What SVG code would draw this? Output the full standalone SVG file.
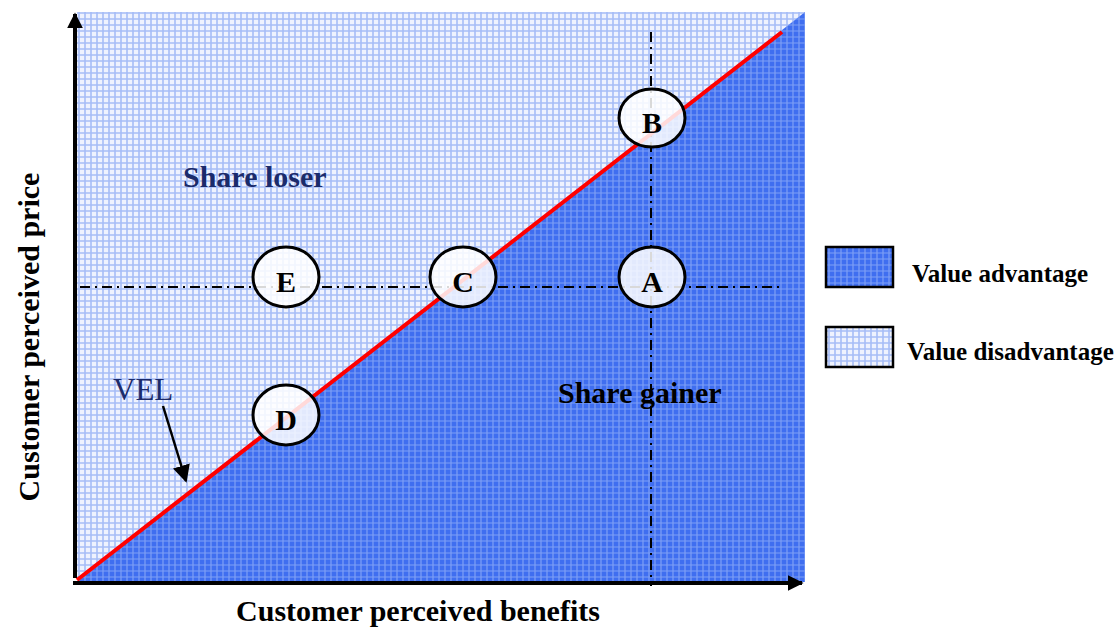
<svg xmlns="http://www.w3.org/2000/svg" width="1120" height="628" viewBox="0 0 1120 628">
  <defs>
    <!-- grid textures for the two value regions -->
    <pattern id="gridDark" width="6" height="6" patternUnits="userSpaceOnUse">
      <rect width="6" height="6" fill="#3f6ef0"/>
      <path d="M0 1H6M1 0V6" stroke="#7d9ff6" stroke-width="1.2"/>
    </pattern>
    <pattern id="gridLight" width="6" height="6" patternUnits="userSpaceOnUse">
      <rect width="6" height="6" fill="#eef2fe"/>
      <path d="M0 1H6M1 0V6" stroke="#a6bdf7" stroke-width="1.6"/>
    </pattern>
    <marker id="axisHead" viewBox="0 0 10 10" refX="9" refY="5" markerWidth="4" markerHeight="4" orient="auto" markerUnits="strokeWidth">
      <path d="M0 0L10 5L0 10Z" fill="#000"/>
    </marker>
    <marker id="pointer" viewBox="0 0 10 10" refX="9" refY="5" markerWidth="7" markerHeight="7" orient="auto" markerUnits="strokeWidth">
      <path d="M0 0L10 5L0 10Z" fill="#000"/>
    </marker>
  </defs>
  <style>
    .node ellipse { fill: #ffffff; fill-opacity: 0.85; stroke: #000; stroke-width: 3; }
    .node text { font-family: "Liberation Serif", serif; font-weight: bold; font-size: 30px; fill: #000; text-anchor: middle; }
    .guide { stroke: #000; stroke-width: 2; stroke-dasharray: 10 5 2 5; fill: none; }
    .lbl { font-family: "Liberation Serif", serif; font-weight: bold; }
    .legend rect { stroke: #000; stroke-width: 2.5; }
  </style>

  <!-- plot regions -->
  <rect x="77" y="12" width="728" height="570" fill="url(#gridLight)"/>
  <path d="M77 582L805 582L805 12Z" fill="url(#gridDark)"/>

  <!-- guide lines through A -->
  <g id="guides">
    <path class="guide" d="M80 287H780"/>
    <path class="guide" d="M651 32V586"/>
  </g>

  <!-- value equivalence line -->
  <line x1="77" y1="580" x2="782" y2="32" stroke="#ff0000" stroke-width="4"/>

  <g id="connectors">
    <!-- axes -->
    <line x1="75" y1="578" x2="75" y2="14" stroke="#000" stroke-width="4" marker-end="url(#axisHead)"/>
    <line x1="73" y1="583" x2="802" y2="583" stroke="#000" stroke-width="4" marker-end="url(#axisHead)"/>
    <!-- VEL pointer -->
    <line x1="163" y1="406" x2="186" y2="481" stroke="#000" stroke-width="2.5" marker-end="url(#pointer)"/>
  </g>

  <g id="node-B" class="node"><ellipse cx="652" cy="118" rx="33" ry="29"/><text x="652" y="133">B</text></g>
  <g id="node-E" class="node"><ellipse cx="286" cy="277" rx="33" ry="30"/><text x="286" y="292">E</text></g>
  <g id="node-C" class="node"><ellipse cx="463" cy="277" rx="33" ry="30"/><text x="463" y="292">C</text></g>
  <g id="node-A" class="node"><ellipse cx="652" cy="277" rx="33" ry="30"/><text x="652" y="292">A</text></g>
  <g id="node-D" class="node"><ellipse cx="286" cy="415" rx="33" ry="30"/><text x="286" y="430">D</text></g>

  <!-- region labels -->
  <text class="lbl" x="183" y="187" font-size="30" fill="#1b2b6b">Share loser</text>
  <text class="lbl" x="558" y="403" font-size="30" fill="#000">Share gainer</text>
  <text x="113" y="400" font-family="Liberation Serif, serif" font-size="31" fill="#1b2b6b">VEL</text>

  <!-- axis titles -->
  <text class="lbl" x="418" y="621" font-size="30" text-anchor="middle">Customer perceived benefits</text>
  <text class="lbl" transform="translate(39 337) rotate(-90)" font-size="30" text-anchor="middle">Customer perceived price</text>

  <!-- legend -->
  <g id="legend" class="legend">
    <rect x="826" y="247" width="67" height="40" fill="url(#gridDark)"/>
    <text class="lbl" x="912" y="282" font-size="25">Value advantage</text>
    <rect x="826" y="327" width="67" height="40" fill="url(#gridLight)"/>
    <text class="lbl" x="907" y="360" font-size="25">Value disadvantage</text>
  </g>
</svg>
